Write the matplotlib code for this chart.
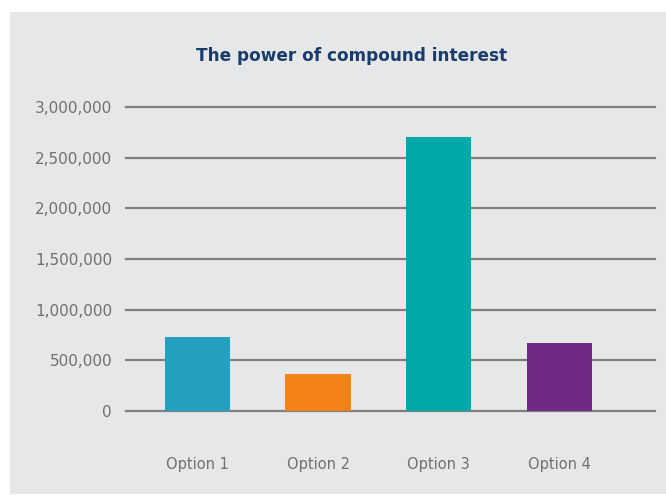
import matplotlib
matplotlib.use("Agg")
import matplotlib.pyplot as plt
from matplotlib.patches import Rectangle
from matplotlib.ticker import FuncFormatter

options = ["Option 1", "Option 2", "Option 3", "Option 4"]
values = [730000, 365000, 2700000, 670000]
colors = ["#25A0BF", "#F58119", "#00A9A8", "#6E2A84"]

W, H = 666, 495
fig = plt.figure(figsize=(W / 100, H / 100), dpi=100)
fig.patch.set_facecolor("white")
# grey panel behind the chart
panel = Rectangle((10 / W, 1 / H), 656 / W, 482 / H, transform=fig.transFigure,
                  facecolor="#E6E7E9", edgecolor="none", zorder=-5)
fig.add_artist(panel)

ax = fig.add_axes([126 / W, 84 / H, 529 / W, 304 / H])
ax.set_facecolor("none")

x = list(range(len(options)))
ax.bar(x, values, width=0.54, color=colors, zorder=3)

ax.set_ylim(0, 3000000)
ax.set_xlim(-0.59, 3.79)
ax.set_yticks(range(0, 3000001, 500000))
ax.yaxis.set_major_formatter(FuncFormatter(lambda v, p: "{:,.0f}".format(v)))
ax.set_xticks(x)
ax.set_xticklabels(options)

ax.grid(axis="y", color="#7F7F7F", linewidth=1.6, zorder=1)
for gl in ax.get_ygridlines():
    gl.set_clip_on(False)
ax.set_axisbelow(True)
for s in ax.spines.values():
    s.set_visible(False)
ax.tick_params(axis="y", length=0, pad=10, labelsize=11, labelcolor="#707070")
ax.tick_params(axis="x", length=0, pad=33, labelsize=10.5, labelcolor="#707070")

fig.text(352 / W, 1 - 56 / H, "The power of compound interest", ha="center",
         va="center", fontsize=12.2, fontweight="bold", color="#1B3B6B")

fig.savefig("out.png", dpi=100)
